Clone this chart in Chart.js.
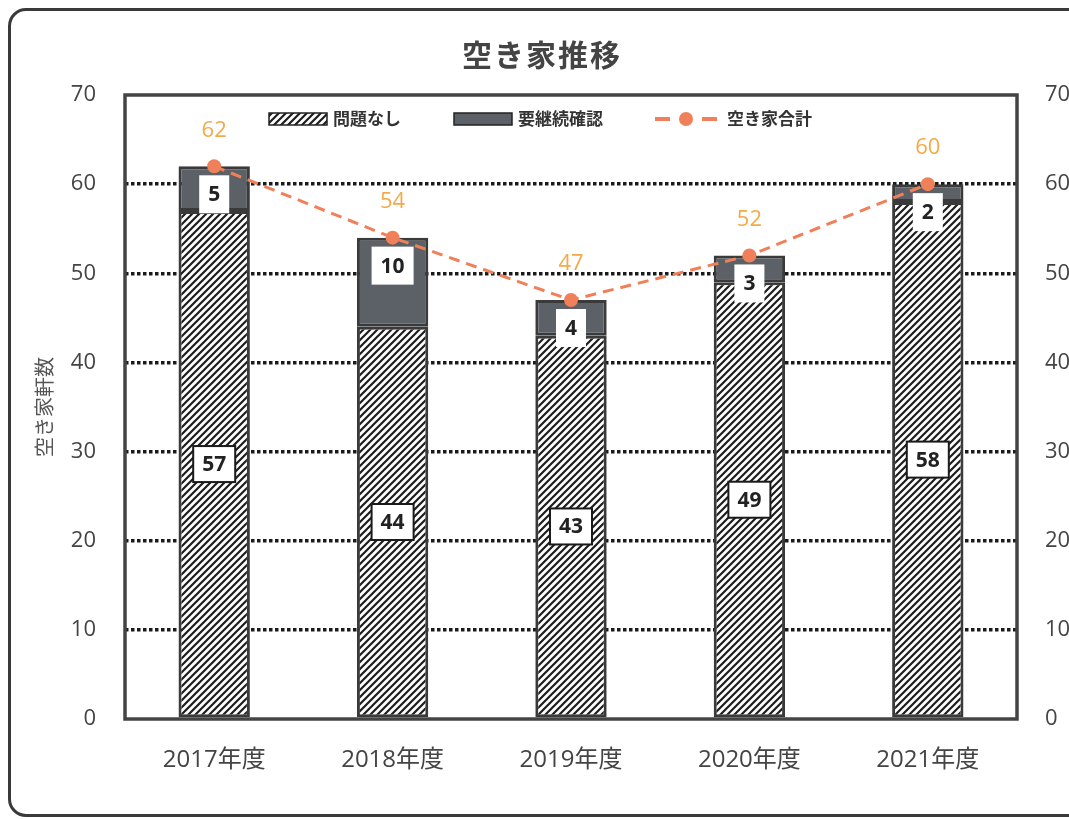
<!DOCTYPE html>
<html><head><meta charset="utf-8">
<script src="https://cdn.jsdelivr.net/npm/chart.js@4/dist/chart.umd.min.js"></script>
<style>
html,body{margin:0;padding:0;background:#fff;overflow:hidden;width:1069px;height:819px;}
#frame{position:absolute;left:8px;top:8px;width:1200px;height:803px;border:3px solid #3a3a3a;border-radius:18px;}
#c{position:absolute;left:0;top:0;}
</style></head>
<body>
<div id="frame"></div>
<canvas id="c" width="1110" height="819"></canvas>
<script>
const categories = ['2017年度','2018年度','2019年度','2020年度','2021年度'];
const okValues = [57,44,43,49,58];        // 問題なし
const checkValues = [5,10,4,3,2];         // 要継続確認
const totalValues = [62,54,47,52,60];     // 空き家合計
const seriesNames = ['問題なし','要継続確認','空き家合計'];
const chartTitle = '空き家推移';
const yAxisTitle = '空き家軒数';

const JP = '"Noto Sans CJK JP", sans-serif';
const NUM = '"Open Sans", "Noto Sans CJK JP", sans-serif';
const GRAY = '#5b6167';
const EDGE = '#3a3a3a';
const ORANGE = '#f0805a';
const LABEL_ORANGE = '#f4aa48';

const canvas = document.getElementById('c');
const ctx0 = canvas.getContext('2d');
function hatchPattern(){
  const s = 7;
  const c = document.createElement('canvas'); c.width = s; c.height = s;
  const g = c.getContext('2d');
  g.fillStyle = '#fff'; g.fillRect(0,0,s,s);
  g.strokeStyle = '#1e1e1e'; g.lineWidth = 2.2; g.lineCap='square';
  g.beginPath();
  g.moveTo(0,s); g.lineTo(s,0);
  g.moveTo(-1,1); g.lineTo(1,-1);
  g.moveTo(s-1,s+1); g.lineTo(s+1,s-1);
  g.stroke();
  return ctx0.createPattern(c,'repeat');
}
const HATCH = hatchPattern();

function drawBarLabels(chart, dsIndex){
  const ds = chart.data.datasets[dsIndex];
  const meta = chart.getDatasetMeta(dsIndex);
  const ctx = chart.ctx;
  const isTop = dsIndex === 1;
  ctx.save();
  ctx.font = 'bold 21px ' + NUM;
  ctx.textAlign = 'center'; ctx.textBaseline = 'middle';
  meta.data.forEach((el, i) => {
    const t = String(ds.data[i]);
    const w = ctx.measureText(t).width + 18;
    const h = isTop ? 38 : 36;
    const cx = el.x;
    const cy = isTop ? el.y + 9 + h/2 : (el.y + el.base)/2;
    ctx.fillStyle = '#fff';
    ctx.fillRect(cx - w/2, cy - h/2, w, h);
    if (!isTop) {
      ctx.lineWidth = 2; ctx.strokeStyle = '#1a1a1a';
      ctx.strokeRect(cx - w/2, cy - h/2, w, h);
    }
    ctx.fillStyle = '#222';
    ctx.fillText(t, cx, cy + 1);
  });
  ctx.restore();
}

const decor = {
  id:'decor',
  afterDatasetDraw(chart, args){
    // bar dataset 0 is the last bar set drawn; draw all bar labels then (line is drawn after)
    if (args.index !== 0) return;
    drawBarLabels(chart, 0);
    drawBarLabels(chart, 1);
  },
  afterDatasetsDraw(chart){
    const ctx = chart.ctx;
    const a = chart.chartArea;
    ctx.save();
    ctx.strokeStyle = '#444'; ctx.lineWidth = 3.5;
    ctx.strokeRect(a.left, a.top, a.right - a.left, a.bottom - a.top);
    const li = chart.data.datasets.findIndex(d => d.type === 'line');
    const meta = chart.getDatasetMeta(li);
    ctx.font = '22px ' + NUM;
    ctx.fillStyle = LABEL_ORANGE;
    ctx.textAlign = 'center'; ctx.textBaseline = 'middle';
    meta.data.forEach((p, i) => {
      ctx.fillText(String(chart.data.datasets[li].data[i]), p.x, p.y - 36);
    });
    ctx.fillStyle = '#444';
    ctx.font = 'bold 30px ' + JP;
    ctx.letterSpacing = '2px';
    ctx.fillText(chartTitle, 542, 55);
    ctx.letterSpacing = '0px';
    const ly = 119;
    ctx.font = 'bold 17px ' + JP;
    ctx.textAlign = 'left';
    ctx.fillStyle = HATCH; ctx.fillRect(269, ly-6, 58, 12);
    ctx.lineWidth = 1.5; ctx.strokeStyle = '#222'; ctx.strokeRect(269, ly-6, 58, 12);
    ctx.fillStyle = '#333'; ctx.fillText(seriesNames[0], 333, ly);
    ctx.fillStyle = GRAY; ctx.fillRect(454, ly-6, 58, 12);
    ctx.strokeStyle = '#222'; ctx.strokeRect(454, ly-6, 58, 12);
    ctx.fillStyle = '#333'; ctx.fillText(seriesNames[1], 518, ly);
    ctx.strokeStyle = ORANGE; ctx.lineWidth = 4;
    ctx.beginPath(); ctx.moveTo(655, ly); ctx.lineTo(670, ly); ctx.moveTo(702, ly); ctx.lineTo(717, ly); ctx.stroke();
    ctx.fillStyle = ORANGE; ctx.beginPath(); ctx.arc(686, ly, 7, 0, Math.PI*2); ctx.fill();
    ctx.fillStyle = '#333'; ctx.fillText(seriesNames[2], 727, ly);
    ctx.restore();
  }
};

new Chart(canvas, {
  data: {
    labels: categories,
    datasets: [
      { type:'bar', label: seriesNames[0], data: okValues, backgroundColor: HATCH,
        borderColor: EDGE, borderWidth: 3, borderSkipped: false, yAxisID:'y', order: 1,
        barPercentage: 0.4, categoryPercentage: 1 },
      { type:'bar', label: seriesNames[1], data: checkValues, backgroundColor: GRAY,
        borderColor: EDGE, borderWidth: 3, borderSkipped: false, yAxisID:'y', order: 1,
        barPercentage: 0.4, categoryPercentage: 1 },
      { type:'line', label: seriesNames[2], data: totalValues, borderColor: ORANGE, borderWidth: 3,
        borderDash: [11,7], pointRadius: 7, pointBackgroundColor: ORANGE, pointBorderWidth: 0,
        yAxisID:'y2', order: 0, fill: false, tension: 0 }
    ]
  },
  options: {
    responsive: false,
    animation: false,
    layout: { padding: { top: 95, left: 0, right: 0, bottom: 0 } },
    plugins: { legend: { display: false }, title: { display: false }, tooltip: { enabled: false } },
    scales: {
      x: {
        stacked: true,
        grid: { display: false, drawTicks: false },
        border: { display: false },
        ticks: { color: '#444', padding: 27, font: { size: 24, family: NUM } },
        afterFit(s){ s.height = 100; }
      },
      y: {
        position: 'left', stacked: true, min: 0, max: 70,
        ticks: { stepSize: 10, color: '#444', padding: 29, font: { size: 22, family: NUM } },
        grid: { drawTicks: false, lineWidth: 3.5,
          color: c => (c.tick && (c.tick.value === 0 || c.tick.value === 70)) ? 'rgba(0,0,0,0)' : '#1a1a1a' },
        border: { display: false, dash: [3.5, 2.5] },
        title: { display: true, text: yAxisTitle, color: '#555', padding: { top: 32, bottom: 0 },
          font: { size: 20, family: JP } },
        afterFit(s){ s.width = 125; }
      },
      y2: {
        position: 'right', min: 0, max: 70,
        ticks: { stepSize: 10, color: '#444', padding: 28, font: { size: 22, family: NUM } },
        grid: { display: false, drawTicks: false },
        border: { display: false },
        afterFit(s){ s.width = 93; }
      }
    }
  },
  plugins: [decor]
});
</script>
</body></html>
